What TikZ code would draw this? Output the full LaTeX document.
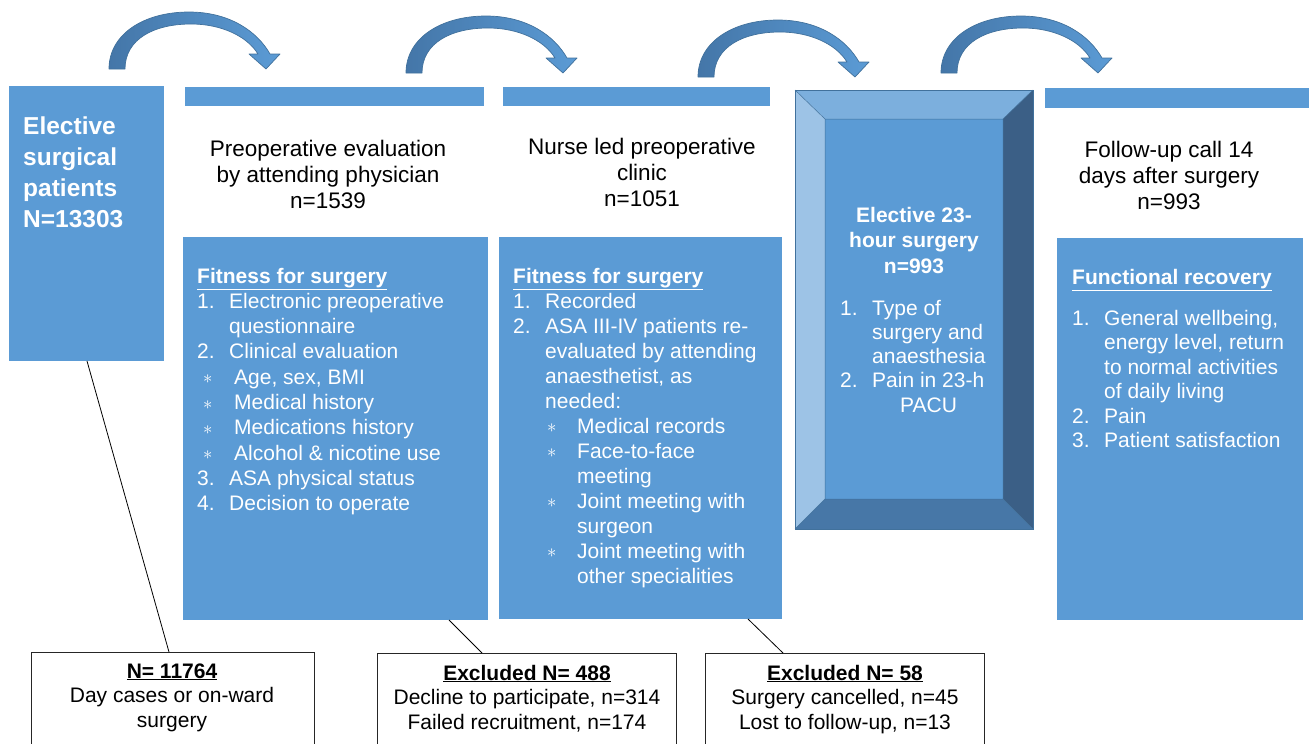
\documentclass[tikz,border=0pt]{standalone}
\usepackage{fontspec}
\setmainfont{Liberation Sans}
\usetikzlibrary{calc}

\definecolor{boxblue}{HTML}{5B9BD5}
\definecolor{edgeblue}{HTML}{41719C}
\definecolor{darkarrow}{HTML}{4476A8}
\definecolor{bevtop}{HTML}{7CAFDD}
\definecolor{bevleft}{HTML}{9DC3E6}
\definecolor{bevright}{HTML}{3B5F86}
\definecolor{bevbottom}{HTML}{4777A7}

% list helpers
\newcommand{\numitem}[1]{\makebox[32pt][l]{#1}}
\newcommand{\astmark}{\raisebox{0.5pt}{\scalebox{0.9}{$\ast$}}}
\newcommand{\rows}[2]{\begin{tabular}[t]{@{}#1@{}}#2\end{tabular}}

\tikzset{
  bluebox/.style={fill=boxblue, draw=none, inner sep=0pt, outer sep=0pt, anchor=north west},
  whitebox/.style={fill=white, draw=black!85, line width=0.9pt, inner sep=0pt, outer sep=0pt, anchor=north west},
  conn/.style={draw=black, line width=0.8pt},
  bodytext/.style={inner sep=0pt, anchor=base west, text=white, font=\fontsize{21}{25.3}\selectfont},
  headtext/.style={inner sep=0pt, anchor=base, text=black, font=\fontsize{22.5}{26}\selectfont},
  exctext/.style={inner sep=0pt, anchor=base, text=black, font=\fontsize{21}{24.5}\selectfont},
  flowarrow/.style={left color=darkarrow, right color=boxblue, draw=edgeblue, line width=0.7pt, line join=round},
}

% curved block arrow, tail at the local origin
\newcommand{\curvedarrow}[1]{%
  \begin{scope}[shift={#1}]
    \path[flowarrow] (0,0) .. controls (0,-35) and (35,-57) .. (80,-57)
      .. controls (120,-57) and (148,-38) .. (161,-15)
      -- (171,-15) -- (157,0) -- (140,-15) -- (149,-15)
      .. controls (138,-33) and (112,-45) .. (82,-45)
      .. controls (45,-45) and (16,-30) .. (16,0) -- cycle;
  \end{scope}}

\begin{document}
\begin{tikzpicture}[x=1pt,y=-1pt]
\useasboundingbox (0,0) rectangle (1309,744);

% flow arrows along the top
\curvedarrow{(109,69)}
\curvedarrow{(406,73)}
\curvedarrow{(698,77)}
\curvedarrow{(941,73)}

% blue blocks
\node[bluebox, minimum width=155pt, minimum height=275pt] (elective) at (9,86) {};
\node[bluebox, minimum width=299pt, minimum height=19pt] (bar1) at (185,87) {};
\node[bluebox, minimum width=267pt, minimum height=19pt] (bar2) at (503,87) {};
\node[bluebox, minimum width=264pt, minimum height=20pt] (bar4) at (1045,88) {};
\node[bluebox, minimum width=305pt, minimum height=383pt] (fit1) at (183,237) {};
\node[bluebox, minimum width=283pt, minimum height=382pt] (fit2) at (499,237) {};
\node[bluebox, minimum width=246pt, minimum height=382pt] (fit4) at (1057,238) {};

% bevelled surgery block
\node[inner sep=0pt, outer sep=0pt, anchor=north west, minimum width=238pt, minimum height=439pt] (bevel) at (795,90) {};
\coordinate (bi1) at (825,119);
\coordinate (bi2) at (1003,119);
\coordinate (bi3) at (1003,499);
\coordinate (bi4) at (825,499);
\fill[bevtop] (bevel.north west) -- (bevel.north east) -- (bi2) -- (bi1) -- cycle;
\fill[bevleft] (bevel.north west) -- (bi1) -- (bi4) -- (bevel.south west) -- cycle;
\fill[bevright] (bevel.north east) -- (bevel.south east) -- (bi3) -- (bi2) -- cycle;
\fill[bevbottom] (bevel.south west) -- (bi4) -- (bi3) -- (bevel.south east) -- cycle;
\fill[boxblue] (bi1) rectangle (bi3);
\draw[edgeblue, line width=0.7pt] (bevel.north west) rectangle (bevel.south east);
\draw[edgeblue, line width=0.5pt] (bevel.north west) -- (bi1) (bevel.north east) -- (bi2)
  (bevel.south east) -- (bi3) (bevel.south west) -- (bi4) (bi1) rectangle (bi3);

% exclusion boxes
\node[whitebox, minimum width=283pt, minimum height=110pt] (boxA) at (31,652) {};
\node[whitebox, minimum width=299pt, minimum height=110pt] (boxB) at (377,653) {};
\node[whitebox, minimum width=279pt, minimum height=110pt] (boxC) at (705,653) {};

% connectors to the exclusion boxes
\draw[conn] ($(elective.south west)+(78,0)$) -- ($(boxA.north west)+(138,0)$);
\draw[conn] ($(fit1.south west)+(266,0)$) -- ($(boxB.north west)+(105,0)$);
\draw[conn] ($(fit2.south west)+(249,0)$) -- ($(boxC.north west)+(78,0)$);

% texts
\node[inner sep=0pt, anchor=base west, text=white, font=\fontsize{24.5}{31.3}\selectfont\bfseries] (electivetext) at (23,134)
  {\rows{l}{Elective\\ surgical\\ patients\\ N=13303}};

\node[headtext] (head1) at (328,156) {\rows{c}{Preoperative evaluation\\ by attending physician\\ n=1539}};
\node[headtext] (head2) at (642,154) {\rows{c}{Nurse led preoperative\\ clinic\\ n=1051}};
\node[headtext] (head4) at (1169,157) {\rows{c}{Follow-up call 14\\ days after surgery\\ n=993}};

\node[bodytext] (fit1text) at (197,283) {\rows{l}{%
  \textbf{\underline{Fitness for surgery}}\\
  \numitem{1.}Electronic preoperative\\
  \hspace*{32pt}questionnaire\\
  \numitem{2.}Clinical evaluation\\
  \hspace*{6pt}\makebox[31pt][l]{\astmark}Age, sex, BMI\\
  \hspace*{6pt}\makebox[31pt][l]{\astmark}Medical history\\
  \hspace*{6pt}\makebox[31pt][l]{\astmark}Medications history\\
  \hspace*{6pt}\makebox[31pt][l]{\astmark}Alcohol \& nicotine use\\
  \numitem{3.}ASA physical status\\
  \numitem{4.}Decision to operate}};

\node[bodytext, font=\fontsize{21}{25}\selectfont] (fit2text) at (513,283) {\rows{l}{%
  \textbf{\underline{Fitness for surgery}}\\
  \numitem{1.}Recorded\\
  \numitem{2.}ASA III-IV patients re-\\
  \hspace*{32pt}evaluated by attending\\
  \hspace*{32pt}anaesthetist, as\\
  \hspace*{32pt}needed:\\
  \hspace*{34pt}\makebox[30pt][l]{\astmark}Medical records\\
  \hspace*{34pt}\makebox[30pt][l]{\astmark}Face-to-face\\
  \hspace*{64pt}meeting\\
  \hspace*{34pt}\makebox[30pt][l]{\astmark}Joint meeting with\\
  \hspace*{64pt}surgeon\\
  \hspace*{34pt}\makebox[30pt][l]{\astmark}Joint meeting with\\
  \hspace*{64pt}other specialities}};

\node[inner sep=0pt, anchor=base, text=white, font=\fontsize{21}{25.5}\selectfont\bfseries] (surgtitle) at (914,222)
  {\rows{c}{Elective 23-\\ hour surgery\\ n=993}};
\node[bodytext, font=\fontsize{21}{24.3}\selectfont] (surgtext) at (840,315) {\rows{l}{%
  \numitem{1.}Type of\\
  \hspace*{32pt}surgery and\\
  \hspace*{32pt}anaesthesia\\
  \numitem{2.}Pain in 23-h\\
  \hspace*{60pt}PACU}};

\node[bodytext] (fit4head) at (1072,284) {\textbf{\underline{Functional recovery}}};
\node[bodytext, font=\fontsize{21}{24.5}\selectfont] (fit4text) at (1072,325) {\rows{l}{%
  \numitem{1.}General wellbeing,\\
  \hspace*{32pt}energy level, return\\
  \hspace*{32pt}to normal activities\\
  \hspace*{32pt}of daily living\\
  \numitem{2.}Pain\\
  \numitem{3.}Patient satisfaction}};

\node[exctext] (boxAtext) at (172,678) {\rows{c}{\textbf{\underline{N= 11764}}\\ Day cases or on-ward\\ surgery}};
\node[exctext] (boxBtext) at (527,680) {\rows{c}{\textbf{\underline{Excluded N= 488}}\\ Decline to participate, n=314\\ Failed recruitment, n=174}};
\node[exctext] (boxCtext) at (845,680) {\rows{c}{\textbf{\underline{Excluded N= 58}}\\ Surgery cancelled, n=45\\ Lost to follow-up, n=13}};

\end{tikzpicture}
\end{document}
